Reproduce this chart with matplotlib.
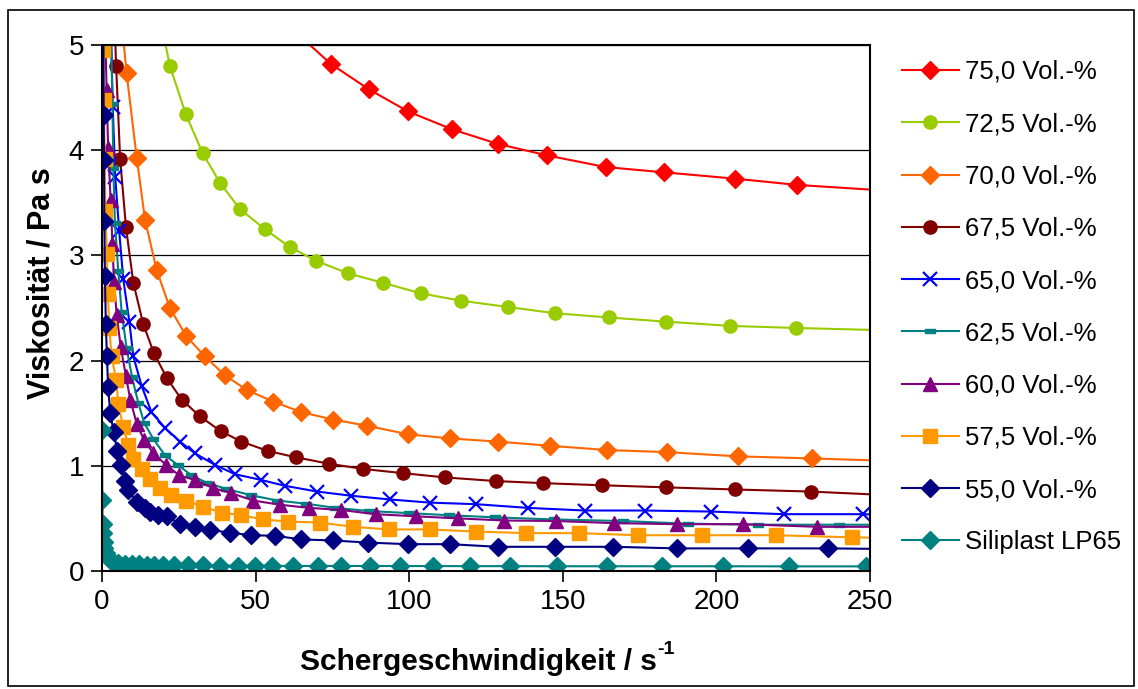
import matplotlib
matplotlib.use("Agg")
import matplotlib.pyplot as plt
from matplotlib.patches import Rectangle
from matplotlib.path import Path

plt.rcParams['font.family'] = ['Liberation Sans', 'DejaVu Sans']

labels = ["75,0 Vol.-%", "72,5 Vol.-%", "70,0 Vol.-%", "67,5 Vol.-%", "65,0 Vol.-%",
          "62,5 Vol.-%", "60,0 Vol.-%", "57,5 Vol.-%", "55,0 Vol.-%", "Siliplast LP65"]

x75 = [62, 74.5, 86.8, 99.5, 113.8, 128.8, 145.0, 163.9, 182.8, 205.9, 226.3, 253]
y75 = [5.15, 4.82, 4.58, 4.37, 4.20, 4.06, 3.95, 3.84, 3.79, 3.73, 3.67, 3.62]

x725 = [19.0, 22.1, 27.3, 32.8, 38.4, 44.9, 53.0, 61.1, 69.6, 80.0, 91.4, 103.7, 116.7,
        132.0, 147.6, 164.9, 183.7, 204.5, 226.0, 253]
y725 = [5.25, 4.80, 4.34, 3.97, 3.69, 3.44, 3.25, 3.08, 2.95, 2.83, 2.74, 2.64, 2.57,
        2.51, 2.45, 2.41, 2.37, 2.33, 2.31, 2.29]

x70 = [6.5, 8.0, 11.3, 14.0, 17.8, 22.1, 27.5, 33.5, 40.0, 47.2, 55.7, 64.9, 75.2, 86.4,
       99.6, 113.2, 128.9, 145.9, 164.4, 183.8, 206.9, 231.0, 253]
y70 = [5.2, 4.73, 3.93, 3.34, 2.86, 2.50, 2.23, 2.04, 1.86, 1.72, 1.61, 1.51, 1.44, 1.38,
       1.30, 1.26, 1.23, 1.19, 1.15, 1.13, 1.09, 1.07, 1.05]

x675 = [4.0, 4.6, 5.9, 7.8, 10.2, 13.4, 16.9, 21.2, 25.9, 31.9, 38.6, 45.4, 54.1, 63.3,
        73.8, 85.0, 98.0, 111.5, 128.1, 143.7, 162.7, 183.6, 205.9, 230.8, 253]
y675 = [5.3, 4.80, 3.92, 3.27, 2.74, 2.35, 2.07, 1.83, 1.63, 1.47, 1.33, 1.23, 1.14, 1.08,
        1.02, 0.97, 0.93, 0.89, 0.855, 0.835, 0.815, 0.795, 0.775, 0.755, 0.725]

x65 = [2.8, 3.5, 4.3, 5.6, 6.9, 8.9, 10.2, 12.9, 16.1, 20.5, 25.4, 30.2, 36.7, 43.3, 51.9,
       59.5, 70.1, 81.2, 93.7, 106.7, 121.8, 138.6, 157.1, 176.6, 198.3, 221.9, 247.6, 253]
y65 = [5.3, 4.41, 3.75, 3.23, 2.78, 2.37, 2.04, 1.76, 1.51, 1.36, 1.23, 1.12, 1.01, 0.92,
       0.865, 0.81, 0.755, 0.715, 0.68, 0.65, 0.635, 0.60, 0.575, 0.575, 0.565, 0.54, 0.54, 0.535]

x625 = [2.8, 3.4, 3.7, 4.2, 5.3, 6.4, 8.0, 9.8, 11.8, 13.7, 16.7, 20.5, 24.8, 29.1, 34.0,
        40.5, 48.6, 57.0, 66.3, 76.0, 87.0, 100.0, 113.0, 128.0, 147.0, 169.5, 190.6,
        213.7, 239.8, 253]
y625 = [5.3, 4.44, 3.83, 3.31, 2.85, 2.46, 2.12, 1.84, 1.60, 1.41, 1.255, 1.10, 1.005, 0.91,
        0.84, 0.78, 0.72, 0.67, 0.64, 0.60, 0.57, 0.55, 0.53, 0.51, 0.49, 0.475, 0.45,
        0.44, 0.44, 0.44]

x60 = [1.0, 1.5, 2.0, 2.8, 3.4, 3.9, 4.8, 6.1, 7.8, 9.2, 11.3, 13.7, 16.7, 20.8, 25.1,
       30.2, 36.0, 42.1, 49.2, 57.9, 67.4, 77.9, 89.1, 102.1, 115.9, 131.0, 147.8, 166.8,
       187.1, 208.5, 232.9, 253]
y60 = [5.2, 4.57, 4.02, 3.53, 3.11, 2.75, 2.43, 2.13, 1.85, 1.63, 1.40, 1.245, 1.12, 1.01,
       0.91, 0.865, 0.79, 0.74, 0.67, 0.63, 0.60, 0.58, 0.54, 0.52, 0.50, 0.48, 0.475,
       0.455, 0.445, 0.445, 0.42, 0.42]

x575 = [0.2, 0.4, 0.6, 0.9, 1.1, 1.6, 1.9, 2.4, 3.1, 4.6, 5.3, 6.9, 8.6, 10.2, 12.9, 15.6,
        18.9, 22.6, 27.5, 32.9, 38.9, 45.4, 52.4, 60.5, 71.1, 81.7, 93.4, 106.7, 121.6,
        137.9, 155.2, 174.4, 195.3, 219.4, 244.3, 253]
y575 = [5.3, 4.95, 4.48, 3.92, 3.42, 3.01, 2.63, 2.31, 2.04, 1.82, 1.59, 1.37, 1.20, 1.06,
        0.97, 0.87, 0.79, 0.72, 0.67, 0.61, 0.555, 0.53, 0.49, 0.47, 0.46, 0.42, 0.395,
        0.395, 0.375, 0.36, 0.36, 0.34, 0.34, 0.34, 0.32, 0.315]

x55 = [0.45, 0.55, 0.65, 0.75, 0.95, 1.25, 1.6, 2.0, 2.7, 3.8, 5.0, 6.2, 7.5, 8.5, 11.3,
       14.0, 15.6, 18.3, 21.0, 25.4, 30.2, 35.1, 41.6, 48.5, 56.3, 64.9, 75.2, 86.6, 99.6,
       113.2, 128.9, 147.3, 166.3, 187.1, 210.2, 236.2, 253]
y55 = [5.3, 4.33, 3.91, 3.33, 2.80, 2.35, 2.04, 1.745, 1.50, 1.32, 1.14, 1.01, 0.86, 0.77,
       0.66, 0.60, 0.565, 0.53, 0.52, 0.45, 0.42, 0.39, 0.365, 0.34, 0.335, 0.30, 0.29,
       0.27, 0.255, 0.255, 0.23, 0.23, 0.23, 0.215, 0.215, 0.215, 0.21]

xsil = [0.05, 0.1, 0.2, 0.3, 0.5, 0.8, 1.2, 1.8, 2.6, 3.7, 5.3, 7.5, 9.7, 12.0, 14.5, 17.0,
        20.0, 23.5, 28.0, 33.0, 38.5, 44.3, 49.8, 55.5, 62.2, 70.3, 77.9, 87.1, 97.1, 107.9,
        119.7, 132.9, 148.1, 164.3, 182.2, 202.0, 223.7, 248.7]
ysil = [1.34, 0.675, 0.45, 0.36, 0.28, 0.215, 0.17, 0.13, 0.105, 0.09, 0.075, 0.07, 0.065,
        0.062, 0.06, 0.058, 0.056, 0.055, 0.054, 0.053, 0.052, 0.051, 0.05, 0.05, 0.048,
        0.048, 0.048, 0.048, 0.047, 0.047, 0.046, 0.046, 0.045, 0.045, 0.045, 0.045,
        0.044, 0.044]

xs = [x75, x725, x70, x675, x65, x625, x60, x575, x55, xsil]
ys = [y75, y725, y70, y675, y65, y625, y60, y575, y55, ysil]
colors = ["#FF0000", "#99CC00", "#FF6600", "#800000", "#0000FF",
          "#008080", "#800080", "#FF9900", "#000080", "#008080"]
dash = Path([(-1, -0.35), (1, -0.35), (1, 0.35), (-1, 0.35), (-1, -0.35)],
            [Path.MOVETO, Path.LINETO, Path.LINETO, Path.LINETO, Path.CLOSEPOLY])
markers = ["D", "o", "D", "o", "x", dash, "^", "s", "D", "D"]
msizes = [9, 9.5, 9, 9.5, 10.5, 7, 9.5, 9.5, 9, 9]
ends = [True, True, True, True, True, True, True, True, True, False]

fig = plt.figure(figsize=(11.38, 6.89), dpi=100)
ax = fig.add_axes([102 / 1138, 1 - 571 / 689, (870 - 102) / 1138, (571 - 45) / 689])

handles = []
for x, y, c, m, ms, e in zip(xs, ys, colors, markers, msizes, ends):
    n = len(x)
    mev = list(range(n - 1)) if e else list(range(n))
    kw = dict(markeredgecolor=c, markerfacecolor=c)
    if m == "x":
        kw = dict(markeredgecolor=c, markeredgewidth=1.6)
    h, = ax.plot(x, y, color=c, lw=1.5, marker=m, ms=ms, markevery=mev, **kw)
    handles.append(h)

ax.set_xlim(0, 250)
ax.set_ylim(0, 5)
ax.set_xticks([0, 50, 100, 150, 200, 250])
ax.set_yticks([0, 1, 2, 3, 4, 5])
ax.tick_params(axis='both', direction='out', length=8, width=1.2, labelsize=20, pad=5)
ax.grid(axis='y', color='black', lw=0.9)
ax.set_axisbelow(True)
for s in ax.spines.values():
    s.set_color('black')
    s.set_linewidth(1.5)

fig.text(42 / 1138, 1 - 283 / 689, "Viskosität / Pa s", rotation=90, ha='center',
         va='center', fontsize=22, fontweight='bold')
xl = fig.text(300 / 1138, 1 - 662 / 689, "Schergeschwindigkeit / s",
              ha='left', va='center', fontsize=21.5, fontweight='bold')
ax.annotate("-1", xy=(1.0, 0.95), xycoords=xl, ha='left', va='center',
            fontsize=14, fontweight='bold')

leg = fig.legend(handles, labels, loc='upper left',
                 bbox_to_anchor=(902 / 1138, 1 - 60 / 689), frameon=False,
                 fontsize=18.5, handlelength=2.2, handletextpad=0.25,
                 labelspacing=1.1, borderpad=0, borderaxespad=0)

fig.patches.append(Rectangle((8 / 1138, 1 - 686 / 689), (1134 - 8) / 1138, (686 - 10) / 689,
                             transform=fig.transFigure, fill=False, lw=1.2, ec='black'))

fig.savefig("out.png", dpi=100)
